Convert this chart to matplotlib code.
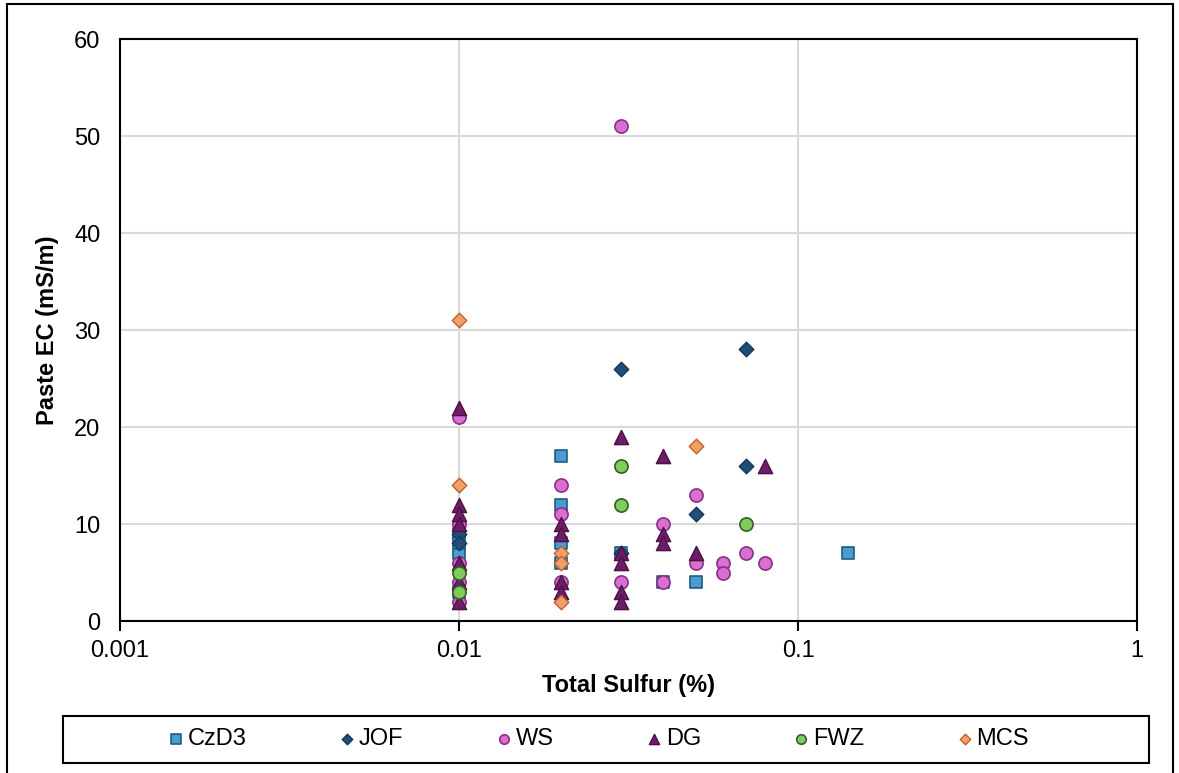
import numpy as np
import matplotlib.pyplot as plt
from matplotlib.patches import Rectangle

plt.rcParams['font.family'] = ['Liberation Sans', 'DejaVu Sans']

# total sulfur (%) and paste EC (mS/m) for each site
czd3_s = [0.01, 0.01, 0.01, 0.01, 0.02, 0.02, 0.02, 0.02, 0.03, 0.04, 0.05, 0.14]
czd3_ec = [7, 9, 8, 3, 17, 12, 8, 6, 7, 4, 4, 7]

jof_s = [0.01, 0.01, 0.03, 0.03, 0.05, 0.07, 0.07]
jof_ec = [9, 8, 26, 7, 11, 28, 16]

ws_s = [0.01, 0.01, 0.01, 0.01, 0.01, 0.02, 0.02, 0.02, 0.03, 0.03,
        0.04, 0.04, 0.05, 0.05, 0.06, 0.06, 0.07, 0.08]
ws_ec = [21, 10, 6, 4, 2, 14, 11, 4, 51, 4,
         10, 4, 13, 6, 6, 5, 7, 6]

dg_s = [0.01, 0.01, 0.01, 0.01, 0.01, 0.01, 0.01, 0.02, 0.02, 0.02, 0.02,
        0.03, 0.03, 0.03, 0.03, 0.03, 0.04, 0.04, 0.04, 0.05, 0.08]
dg_ec = [22, 12, 11, 6, 4, 2, 10, 10, 9, 4, 3,
         19, 7, 6, 3, 2, 17, 9, 8, 7, 16]

fwz_s = [0.01, 0.01, 0.03, 0.03, 0.07]
fwz_ec = [5, 3, 16, 12, 10]

mcs_s = [0.01, 0.01, 0.02, 0.02, 0.02, 0.05]
mcs_ec = [31, 14, 7, 6, 2, 18]

fig = plt.figure(figsize=(11.79, 7.73), dpi=100)
ax = fig.add_axes([0.1018, 0.1966, 0.8626, 0.7529])

ax.scatter(czd3_s, czd3_ec, marker='s', s=85, c='#4a9ad6', edgecolors='#1f5f7a', linewidths=1.2, label='CzD3', zorder=3)
ax.scatter(jof_s, jof_ec, marker='D', s=55, c='#1f4e79', edgecolors='#15385a', linewidths=1.0, label='JOF', zorder=3)
ax.scatter(ws_s, ws_ec, marker='o', s=90, c='#da6fd2', edgecolors='#8a2f87', linewidths=1.2, label='WS', zorder=3)
ax.scatter(dg_s, dg_ec, marker='^', s=105, c='#6b1d66', edgecolors='#4e1049', linewidths=1.0, label='DG', zorder=3)
ax.scatter(fwz_s, fwz_ec, marker='o', s=90, c='#7fcb5e', edgecolors='#355f24', linewidths=1.2, label='FWZ', zorder=3)
ax.scatter(mcs_s, mcs_ec, marker='D', s=55, c='#f2a06a', edgecolors='#c0602a', linewidths=1.0, label='MCS', zorder=3)

ax.set_xscale('log')
ax.set_xlim(0.001, 1)
ax.set_ylim(0, 60)
ax.set_xticks([0.001, 0.01, 0.1, 1])
ax.set_xticklabels(['0.001', '0.01', '0.1', '1'])
ax.minorticks_off()
ax.set_yticks(np.arange(0, 61, 10))

ax.grid(True, color='#d9d9d9', linewidth=1.5, zorder=0)
ax.set_axisbelow(True)
for sp in ax.spines.values():
    sp.set_linewidth(1.5)
    sp.set_color('black')

ax.tick_params(axis='x', direction='out', length=7, width=1.5, labelsize=17, pad=7)
ax.tick_params(axis='y', length=0, labelsize=17, pad=14)
ax.set_xlabel('Total Sulfur (%)', fontsize=17, fontweight='bold', labelpad=8)
ax.set_ylabel('Paste EC (mS/m)', fontsize=17, fontweight='bold', labelpad=11)

# legend box spans the chart width, entries centred inside it
fig.patches.append(Rectangle((0.0534, 0.0130), 0.921, 0.0608, transform=fig.transFigure,
                             fill=False, edgecolor='black', linewidth=1.5))
leg = fig.legend(loc='center', bbox_to_anchor=(0.508, 0.0434), ncol=6, fontsize=17,
                 frameon=False, handlelength=0.6, handletextpad=0.2,
                 columnspacing=3.95, markerscale=0.72)

# outer chart border
fig.patches.append(Rectangle((0.006, -0.01), 0.989, 1.005, transform=fig.transFigure,
                             fill=False, edgecolor='black', linewidth=1.5))

fig.savefig('out.png', dpi=100)
